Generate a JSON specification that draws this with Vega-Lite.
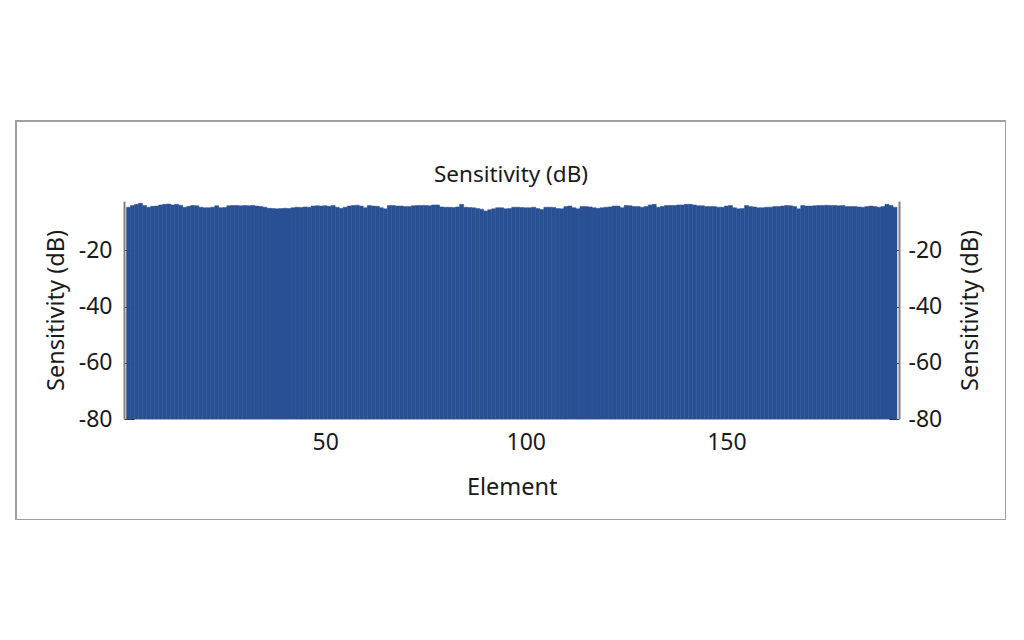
{
  "$schema": "https://vega.github.io/schema/vega-lite/v6.json",
  "width": 990,
  "height": 399,
  "autosize": "none",
  "padding": {"left": 16, "top": 121, "right": 0, "bottom": 0},
  "background": "white",
  "config": {
    "view": {"stroke": "#a0a0a0", "strokeWidth": 2},
    "font": "Noto Sans",
    "axis": {
      "labelFont": "Noto Sans",
      "titleFont": "Noto Sans",
      "labelFontSize": 23,
      "titleFontSize": 23.5,
      "titleFontWeight": "normal",
      "labelColor": "#1a1a1a",
      "titleColor": "#1a1a1a",
      "grid": false
    }
  },
  "title": {
    "text": "Sensitivity (dB)",
    "offset": -76,
    "baseline": "middle",
    "fontSize": 22.5,
    "fontWeight": "normal",
    "font": "Noto Sans",
    "color": "#1a1a1a"
  },
  "data": {
    "values": [
      {"Element": 1, "Sensitivity": -4.6}, {"Element": 2, "Sensitivity": -4.0}, {"Element": 3, "Sensitivity": -3.6}, {"Element": 4, "Sensitivity": -3.2},
      {"Element": 5, "Sensitivity": -4.0}, {"Element": 6, "Sensitivity": -4.6}, {"Element": 7, "Sensitivity": -4.3}, {"Element": 8, "Sensitivity": -4.2},
      {"Element": 9, "Sensitivity": -3.8}, {"Element": 10, "Sensitivity": -3.6}, {"Element": 11, "Sensitivity": -3.5}, {"Element": 12, "Sensitivity": -3.8},
      {"Element": 13, "Sensitivity": -3.6}, {"Element": 14, "Sensitivity": -3.9}, {"Element": 15, "Sensitivity": -4.6}, {"Element": 16, "Sensitivity": -4.3},
      {"Element": 17, "Sensitivity": -4.0}, {"Element": 18, "Sensitivity": -4.1}, {"Element": 19, "Sensitivity": -4.6}, {"Element": 20, "Sensitivity": -4.8},
      {"Element": 21, "Sensitivity": -4.8}, {"Element": 22, "Sensitivity": -4.6}, {"Element": 23, "Sensitivity": -4.1}, {"Element": 24, "Sensitivity": -4.8},
      {"Element": 25, "Sensitivity": -4.7}, {"Element": 26, "Sensitivity": -4.1}, {"Element": 27, "Sensitivity": -4.0}, {"Element": 28, "Sensitivity": -4.0},
      {"Element": 29, "Sensitivity": -4.1}, {"Element": 30, "Sensitivity": -4.0}, {"Element": 31, "Sensitivity": -4.1}, {"Element": 32, "Sensitivity": -4.0},
      {"Element": 33, "Sensitivity": -4.2}, {"Element": 34, "Sensitivity": -4.4}, {"Element": 35, "Sensitivity": -4.6}, {"Element": 36, "Sensitivity": -5.0},
      {"Element": 37, "Sensitivity": -5.1}, {"Element": 38, "Sensitivity": -5.2}, {"Element": 39, "Sensitivity": -5.1}, {"Element": 40, "Sensitivity": -5.0},
      {"Element": 41, "Sensitivity": -5.1}, {"Element": 42, "Sensitivity": -4.8}, {"Element": 43, "Sensitivity": -4.6}, {"Element": 44, "Sensitivity": -4.7},
      {"Element": 45, "Sensitivity": -4.5}, {"Element": 46, "Sensitivity": -4.6}, {"Element": 47, "Sensitivity": -4.2}, {"Element": 48, "Sensitivity": -4.1},
      {"Element": 49, "Sensitivity": -4.2}, {"Element": 50, "Sensitivity": -4.1}, {"Element": 51, "Sensitivity": -4.3}, {"Element": 52, "Sensitivity": -4.0},
      {"Element": 53, "Sensitivity": -4.6}, {"Element": 54, "Sensitivity": -5.0}, {"Element": 55, "Sensitivity": -4.6}, {"Element": 56, "Sensitivity": -4.2},
      {"Element": 57, "Sensitivity": -4.0}, {"Element": 58, "Sensitivity": -3.9}, {"Element": 59, "Sensitivity": -4.2}, {"Element": 60, "Sensitivity": -4.8},
      {"Element": 61, "Sensitivity": -4.0}, {"Element": 62, "Sensitivity": -4.2}, {"Element": 63, "Sensitivity": -4.3}, {"Element": 64, "Sensitivity": -4.8},
      {"Element": 65, "Sensitivity": -5.2}, {"Element": 66, "Sensitivity": -4.0}, {"Element": 67, "Sensitivity": -4.0}, {"Element": 68, "Sensitivity": -4.2},
      {"Element": 69, "Sensitivity": -4.2}, {"Element": 70, "Sensitivity": -4.4}, {"Element": 71, "Sensitivity": -4.4}, {"Element": 72, "Sensitivity": -4.1},
      {"Element": 73, "Sensitivity": -4.0}, {"Element": 74, "Sensitivity": -4.0}, {"Element": 75, "Sensitivity": -4.0}, {"Element": 76, "Sensitivity": -4.1},
      {"Element": 77, "Sensitivity": -3.8}, {"Element": 78, "Sensitivity": -3.8}, {"Element": 79, "Sensitivity": -4.5}, {"Element": 80, "Sensitivity": -4.6},
      {"Element": 81, "Sensitivity": -4.6}, {"Element": 82, "Sensitivity": -4.7}, {"Element": 83, "Sensitivity": -4.5}, {"Element": 84, "Sensitivity": -3.6},
      {"Element": 85, "Sensitivity": -4.6}, {"Element": 86, "Sensitivity": -4.7}, {"Element": 87, "Sensitivity": -4.8}, {"Element": 88, "Sensitivity": -5.1},
      {"Element": 89, "Sensitivity": -5.3}, {"Element": 90, "Sensitivity": -6.0}, {"Element": 91, "Sensitivity": -5.5}, {"Element": 92, "Sensitivity": -5.2},
      {"Element": 93, "Sensitivity": -4.8}, {"Element": 94, "Sensitivity": -4.8}, {"Element": 95, "Sensitivity": -5.2}, {"Element": 96, "Sensitivity": -5.1},
      {"Element": 97, "Sensitivity": -4.6}, {"Element": 98, "Sensitivity": -4.6}, {"Element": 99, "Sensitivity": -4.7}, {"Element": 100, "Sensitivity": -4.8},
      {"Element": 101, "Sensitivity": -4.8}, {"Element": 102, "Sensitivity": -4.6}, {"Element": 103, "Sensitivity": -5.1}, {"Element": 104, "Sensitivity": -5.4},
      {"Element": 105, "Sensitivity": -4.6}, {"Element": 106, "Sensitivity": -4.6}, {"Element": 107, "Sensitivity": -4.7}, {"Element": 108, "Sensitivity": -5.1},
      {"Element": 109, "Sensitivity": -5.2}, {"Element": 110, "Sensitivity": -4.4}, {"Element": 111, "Sensitivity": -4.2}, {"Element": 112, "Sensitivity": -4.8},
      {"Element": 113, "Sensitivity": -5.2}, {"Element": 114, "Sensitivity": -4.4}, {"Element": 115, "Sensitivity": -4.4}, {"Element": 116, "Sensitivity": -4.5},
      {"Element": 117, "Sensitivity": -4.8}, {"Element": 118, "Sensitivity": -5.0}, {"Element": 119, "Sensitivity": -4.8}, {"Element": 120, "Sensitivity": -4.6},
      {"Element": 121, "Sensitivity": -4.5}, {"Element": 122, "Sensitivity": -4.2}, {"Element": 123, "Sensitivity": -4.2}, {"Element": 124, "Sensitivity": -4.8},
      {"Element": 125, "Sensitivity": -4.0}, {"Element": 126, "Sensitivity": -4.1}, {"Element": 127, "Sensitivity": -4.4}, {"Element": 128, "Sensitivity": -4.4},
      {"Element": 129, "Sensitivity": -4.6}, {"Element": 130, "Sensitivity": -4.4}, {"Element": 131, "Sensitivity": -3.8}, {"Element": 132, "Sensitivity": -3.6},
      {"Element": 133, "Sensitivity": -4.6}, {"Element": 134, "Sensitivity": -4.4}, {"Element": 135, "Sensitivity": -4.0}, {"Element": 136, "Sensitivity": -4.0},
      {"Element": 137, "Sensitivity": -4.0}, {"Element": 138, "Sensitivity": -3.8}, {"Element": 139, "Sensitivity": -3.8}, {"Element": 140, "Sensitivity": -3.6},
      {"Element": 141, "Sensitivity": -3.6}, {"Element": 142, "Sensitivity": -3.8}, {"Element": 143, "Sensitivity": -4.1}, {"Element": 144, "Sensitivity": -4.1},
      {"Element": 145, "Sensitivity": -4.4}, {"Element": 146, "Sensitivity": -4.4}, {"Element": 147, "Sensitivity": -4.4}, {"Element": 148, "Sensitivity": -4.6},
      {"Element": 149, "Sensitivity": -4.6}, {"Element": 150, "Sensitivity": -4.2}, {"Element": 151, "Sensitivity": -4.0}, {"Element": 152, "Sensitivity": -4.8},
      {"Element": 153, "Sensitivity": -5.2}, {"Element": 154, "Sensitivity": -5.1}, {"Element": 155, "Sensitivity": -4.0}, {"Element": 156, "Sensitivity": -4.4},
      {"Element": 157, "Sensitivity": -4.5}, {"Element": 158, "Sensitivity": -4.8}, {"Element": 159, "Sensitivity": -4.8}, {"Element": 160, "Sensitivity": -4.6},
      {"Element": 161, "Sensitivity": -4.6}, {"Element": 162, "Sensitivity": -4.4}, {"Element": 163, "Sensitivity": -4.4}, {"Element": 164, "Sensitivity": -4.2},
      {"Element": 165, "Sensitivity": -4.0}, {"Element": 166, "Sensitivity": -4.1}, {"Element": 167, "Sensitivity": -4.4}, {"Element": 168, "Sensitivity": -5.2},
      {"Element": 169, "Sensitivity": -4.0}, {"Element": 170, "Sensitivity": -4.2}, {"Element": 171, "Sensitivity": -4.2}, {"Element": 172, "Sensitivity": -4.1},
      {"Element": 173, "Sensitivity": -4.0}, {"Element": 174, "Sensitivity": -4.0}, {"Element": 175, "Sensitivity": -3.9}, {"Element": 176, "Sensitivity": -4.0},
      {"Element": 177, "Sensitivity": -4.0}, {"Element": 178, "Sensitivity": -4.1}, {"Element": 179, "Sensitivity": -4.0}, {"Element": 180, "Sensitivity": -4.4},
      {"Element": 181, "Sensitivity": -4.4}, {"Element": 182, "Sensitivity": -4.4}, {"Element": 183, "Sensitivity": -4.5}, {"Element": 184, "Sensitivity": -4.6},
      {"Element": 185, "Sensitivity": -4.4}, {"Element": 186, "Sensitivity": -4.2}, {"Element": 187, "Sensitivity": -4.4}, {"Element": 188, "Sensitivity": -4.6},
      {"Element": 189, "Sensitivity": -4.4}, {"Element": 190, "Sensitivity": -3.6}, {"Element": 191, "Sensitivity": -4.0}, {"Element": 192, "Sensitivity": -4.6}
    ]
  },
  "transform": [
    {"calculate": "datum.Element - 0.5", "as": "lo"},
    {"calculate": "datum.Element + 0.5", "as": "hi"}
  ],
  "encoding": {
    "x": {
      "field": "lo",
      "type": "quantitative",
      "scale": {"domain": [0.5, 192.5], "range": [110.5, 881], "nice": false, "zero": false},
      "axis": {
        "orient": "bottom",
        "offset": -101,
        "title": "Element",
        "values": [50, 100, 150],
        "tickSize": -10,
        "tickColor": "#333333",
        "domainColor": "#d0d0d0",
        "domainWidth": 1,
        "labelPadding": 22,
        "titlePadding": 21
      }
    },
    "x2": {"field": "hi"},
    "y": {
      "field": "Sensitivity",
      "type": "quantitative",
      "scale": {"domain": [-80, -2.4], "range": [298, 80], "nice": false, "zero": false}
    },
    "y2": {"datum": -80}
  },
  "layer": [
    {
      "mark": {"type": "bar", "color": "#2a5094", "stroke": "#2a5094", "strokeWidth": 0.5},
      "encoding": {
        "y": {
          "field": "Sensitivity",
          "type": "quantitative",
          "axis": {
            "orient": "left",
            "offset": -108,
            "title": "Sensitivity (dB)",
            "values": [-80, -60, -40, -20],
            "labelExpr": "'' + datum.value",
            "tickSize": -10,
            "tickColor": "#333333",
            "domainColor": "#808080",
            "domainWidth": 2,
            "labelPadding": 22,
            "titlePadding": 10
          }
        }
      }
    },
    {
      "mark": {"type": "bar", "opacity": 0},
      "encoding": {
        "y": {
          "field": "Sensitivity",
          "type": "quantitative",
          "axis": {
            "orient": "right",
            "offset": -107,
            "title": "Sensitivity (dB)",
            "titleAngle": 270,
            "titleBaseline": "top",
            "values": [-80, -60, -40, -20],
            "labelExpr": "'' + datum.value",
            "tickSize": -10,
            "tickColor": "#333333",
            "domainColor": "#808080",
            "domainWidth": 2,
            "labelPadding": 19,
            "titlePadding": 17
          }
        }
      }
    }
  ],
  "resolve": {"axis": {"y": "independent"}}
}
